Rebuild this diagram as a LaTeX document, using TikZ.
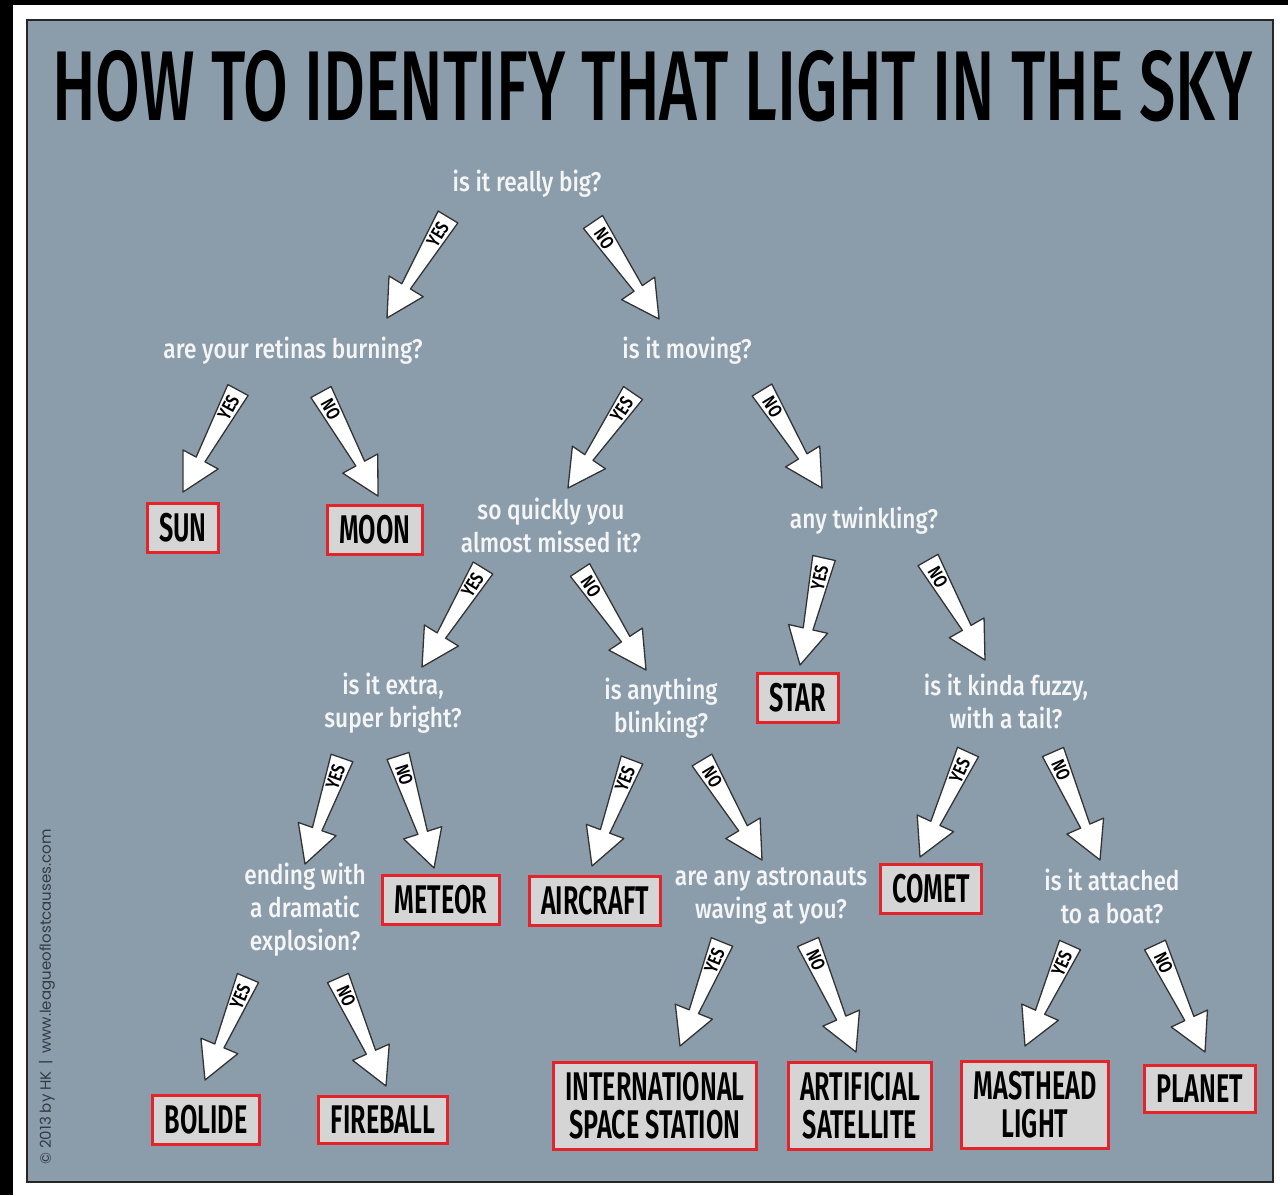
\documentclass[tikz,border=0pt]{standalone}
\usepackage{fontspec}
\usepackage{xcolor}
\usepackage{graphicx}
\usetikzlibrary{calc}
\newfontfamily\headfont{Fira Sans Medium}
\newfontfamily\askfont[FakeStretch=0.84]{Fira Sans Medium}
\newfontfamily\boxfont[FakeStretch=0.63]{Fira Sans SemiBold}
\newfontfamily\ynfont[FakeStretch=0.78]{Fira Sans SemiBold}
\newfontfamily\creditfont{Poppins}
\definecolor{skyblue}{HTML}{8B9DAB}
\definecolor{boxgray}{HTML}{D5D5D5}
\definecolor{boxred}{HTML}{E3252B}
\definecolor{credit}{HTML}{323B44}
\tikzset{
  ask/.style = {font=\askfont\fontsize{27}{33}\selectfont, text=white!96!black,
                align=center, inner sep=0pt},
  ans/.style = {draw=boxred, line width=3pt, fill=boxgray, align=center,
                font=\boxfont\fontsize{40}{38}\selectfont,
                inner xsep=12pt, inner ysep=10pt},
  fat/.style = {draw=black!80, fill=white, line width=1.3pt, line join=round},
  yn/.style  = {font=\ynfont\fontsize{19}{19}\selectfont, inner sep=0pt},
}
% fat white arrow: name, tail, tip, label
\newcommand{\fatarrow}[4]{%
  \coordinate (#1-t) at #2;
  \coordinate (#1-h) at #3;
  \coordinate (#1-b) at ($(#1-h)!37pt!(#1-t)$);
  \draw[fat] ($(#1-t)!11.5pt!90:(#1-h)$) -- ($(#1-b)!5pt!90:(#1-h)$)
    -- ($(#1-b)!20pt!90:(#1-h)$) -- (#1-h) -- ($(#1-b)!20pt!-90:(#1-h)$)
    -- ($(#1-b)!5pt!-90:(#1-h)$) -- ($(#1-t)!11.5pt!-90:(#1-h)$) -- cycle;
  \path (#1-t) -- ($(#1-t)!40pt!(#1-h)$) node[midway, sloped, yn] {#4};
}

\begin{document}
\begin{tikzpicture}[x=1pt, y=-1pt]

% ===== FRAME =====
\fill[white] (0,0) rectangle (1288,1195);
\fill[black] (0,0) rectangle (13,1195);
\fill[black] (0,0) rectangle (1288,5);
\draw[line width=2pt, draw=black!85, fill=skyblue] (27,20) rectangle (1273,1182);

\node[anchor=base west, inner sep=0pt] (title) at (52,120)
     {\resizebox{1200pt}{70pt}{\headfont HOW TO IDENTIFY THAT LIGHT IN THE SKY}};
\node[rotate=90, inner sep=0pt, text=credit, font=\creditfont\fontsize{15}{15}\selectfont]
     (credit) at (47,997) {\textcopyright{} 2013 by HK \,|\, www.leagueoflostcauses.com};

% ===== QUESTIONS =====
\node[ask] (big)   at (527,184) {is it really big?};
\node[ask] (ret)   at (293,351) {are your retinas burning?};
\node[ask] (mov)   at (687,351) {is it moving?};
\node[ask] (qck)   at (551,525) {so quickly you\\almost missed it?};
\node[ask] (twk)   at (864,521) {any twinkling?};
\node[ask] (ext)   at (393,703) {is it extra,\\super bright?};
\node[ask] (blink) at (661,708) {is anything\\blinking?};
\node[ask] (fuzzy) at (1006,701) {is it kinda fuzzy,\\with a tail?};
\node[ask] (boom)  at (305,910) {ending with\\a dramatic\\explosion?};
\node[ask] (astro) at (771,896) {are any astronauts\\waving at you?};
\node[ask] (boat)  at (1112,896) {is it attached\\to a boat?};

% ===== ANSWERS =====
\node[ans] (sun)      at (183,528)  {SUN};
\node[ans] (moon)     at (375,530)  {MOON};
\node[ans] (star)     at (798,698)  {STAR};
\node[ans] (meteor)   at (441,900)  {METEOR};
\node[ans] (aircraft) at (595,901)  {AIRCRAFT};
\node[ans] (comet)    at (931,889)  {COMET};
\node[ans] (bolide)   at (206,1120) {BOLIDE};
\node[ans] (fireball) at (383,1120) {FIREBALL};
\node[ans] (iss)      at (655,1106) {INTERNATIONAL\\SPACE STATION};
\node[ans] (sat)      at (860,1106) {ARTIFICIAL\\SATELLITE};
\node[ans] (mast)     at (1035,1105) {MASTHEAD\\LIGHT};
\node[ans] (planet)   at (1200,1089) {PLANET};

% ===== ARROWS =====
\fatarrow{big-y}{(448,217)}{(387,318)}{YES}
\fatarrow{big-n}{(593,222)}{(659,319)}{NO}
\fatarrow{ret-y}{(238,390)}{(183,492)}{YES}
\fatarrow{ret-n}{(321,392)}{(378,496)}{NO}
\fatarrow{mov-y}{(633,393)}{(568,488)}{YES}
\fatarrow{mov-n}{(762,390)}{(822,488)}{NO}
\fatarrow{qck-y}{(483,568)}{(422,667)}{YES}
\fatarrow{qck-n}{(580,570)}{(646,670)}{NO}
\fatarrow{twk-y}{(824,558)}{(800,665)}{YES}
\fatarrow{twk-n}{(928,560)}{(985,660)}{NO}
\fatarrow{ext-y}{(342,758)}{(305,864)}{YES}
\fatarrow{ext-n}{(398,756)}{(434,868)}{NO}
\fatarrow{blk-y}{(632,760)}{(592,866)}{YES}
\fatarrow{blk-n}{(702,760)}{(762,860)}{NO}
\fatarrow{fuz-y}{(968,752)}{(920,857)}{YES}
\fatarrow{fuz-n}{(1053,752)}{(1100,860)}{NO}
\fatarrow{end-y}{(248,978)}{(205,1080)}{YES}
\fatarrow{end-n}{(338,978)}{(386,1086)}{NO}
\fatarrow{ast-y}{(722,942)}{(680,1046)}{YES}
\fatarrow{ast-n}{(808,942)}{(856,1052)}{NO}
\fatarrow{bot-y}{(1070,945)}{(1025,1046)}{YES}
\fatarrow{bot-n}{(1155,945)}{(1205,1052)}{NO}
\end{tikzpicture}
\end{document}
